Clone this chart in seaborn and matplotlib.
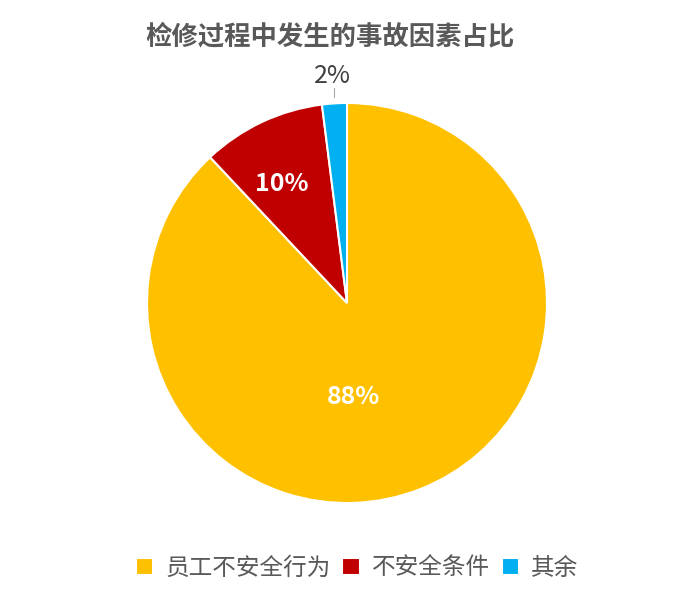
import numpy as np
import matplotlib
matplotlib.use("Agg")
import matplotlib.pyplot as plt
import seaborn as sns

# data
categories = ["员工不安全行为", "不安全条件", "其余"]
shares = [88, 10, 2]
colors = ["#FFC000", "#C00000", "#00B0F0"]
title = "检修过程中发生的事故因素占比"


def main():
    sns.set_theme(style="white")
    plt.rcParams["font.family"] = ["Noto Sans CJK SC", "DejaVu Sans"]

    fig = plt.figure(figsize=(6.79, 5.95), dpi=100)
    ax = fig.add_axes([147 / 679, (595 - 503) / 595, 400 / 679, 400 / 595])

    wedges, _ = ax.pie(shares, colors=sns.color_palette(colors),
                       startangle=90, counterclock=False,
                       wedgeprops=dict(edgecolor="white", linewidth=1.5))
    ax.set_aspect("equal")
    ax.set_xlim(-1, 1)
    ax.set_ylim(-1, 1)

    # data labels (Excel style placement)
    ang = 90 - (np.cumsum(shares) - np.array(shares) / 2) / sum(shares) * 360
    rad = np.deg2rad(ang)
    ax.text(0.035, -0.47, f"{shares[0]}%", color="white", fontsize=18,
            fontweight="bold", ha="center", va="center")
    ax.text(0.77 * np.cos(rad[1]), 0.66 * np.sin(rad[1]), f"{shares[1]}%",
            color="white", fontsize=18, fontweight="bold",
            ha="center", va="center")
    x2 = 1.0 * np.cos(rad[2])
    ax.plot([x2, x2], [1.03, 1.075], color="#a6a6a6", lw=0.8,
            clip_on=False)
    ax.text(x2 - 0.01, 1.135, f"{shares[2]}%", color="#404040", fontsize=18,
            ha="center", va="center")

    fig.text(330 / 679, 1 - 37 / 595, title, color="#595959", fontsize=19,
             fontweight="bold", ha="center", va="center")

    fig.legend(wedges, categories, loc="center", ncol=3,
               bbox_to_anchor=(357 / 679, 1 - 568 / 595), frameon=False,
               fontsize=17, labelcolor="#595959", handlelength=0.75,
               handleheight=0.75, handletextpad=0.5, columnspacing=0.5)

    fig.savefig("out.png", dpi=100)


if __name__ == '__main__':
    main()
